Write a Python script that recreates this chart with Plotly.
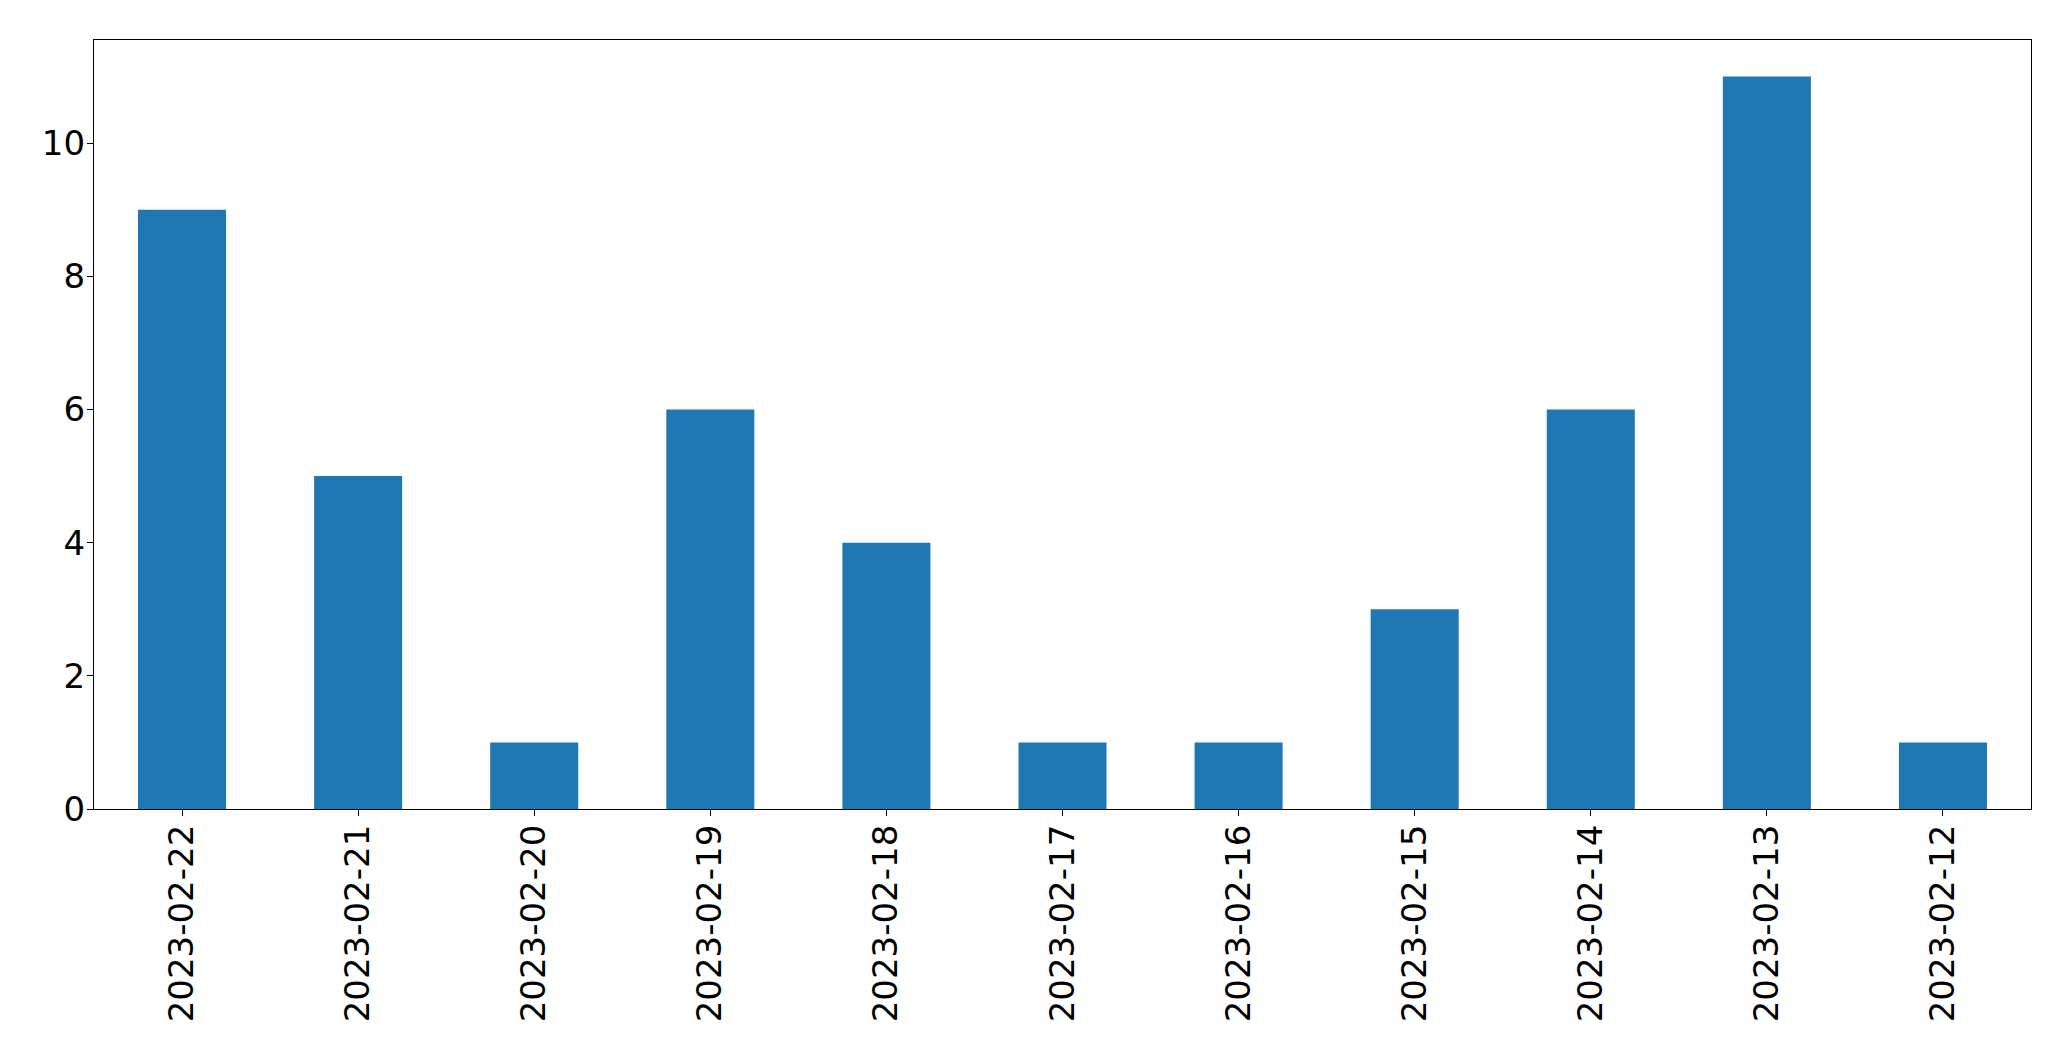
import plotly.graph_objects as go

dates = ["2023-02-22", "2023-02-21", "2023-02-20", "2023-02-19", "2023-02-18",
         "2023-02-17", "2023-02-16", "2023-02-15", "2023-02-14", "2023-02-13", "2023-02-12"]
counts = [9, 5, 1, 6, 4, 1, 1, 3, 6, 11, 1]
y_ticks = [0, 2, 4, 6, 8, 10]

fig = go.Figure(go.Bar(x=dates, y=counts, width=0.5, marker=dict(color="#1f77b4", line=dict(width=0))))

fig.update_layout(
    width=2063, height=1053,
    margin=dict(l=86, r=40, t=32, b=252, pad=0),
    paper_bgcolor="white", plot_bgcolor="white",
    font=dict(family="DejaVu Sans", size=34, color="black"),
    showlegend=False,
)
fig.update_xaxes(
    type="category", range=[-0.5, len(dates) - 0.5],
    showline=True, mirror=True, linecolor="black", linewidth=1.3,
    ticks="outside", ticklen=6, tickwidth=1.3, tickcolor="black",
    tickangle=-90, showgrid=False, zeroline=False, ticklabelstandoff=-5,
    tickfont=dict(size=34, family="DejaVu Sans", color="black"),
)
fig.update_yaxes(
    range=[0, 11.55], tickvals=y_ticks,
    showline=True, mirror=True, linecolor="black", linewidth=1.3,
    ticks="outside", ticklen=6, tickwidth=1.3, tickcolor="black",
    showgrid=False, zeroline=False, ticklabelstandoff=-5,
    tickfont=dict(size=34, family="DejaVu Sans", color="black"),
)

fig.write_html("out.html")
